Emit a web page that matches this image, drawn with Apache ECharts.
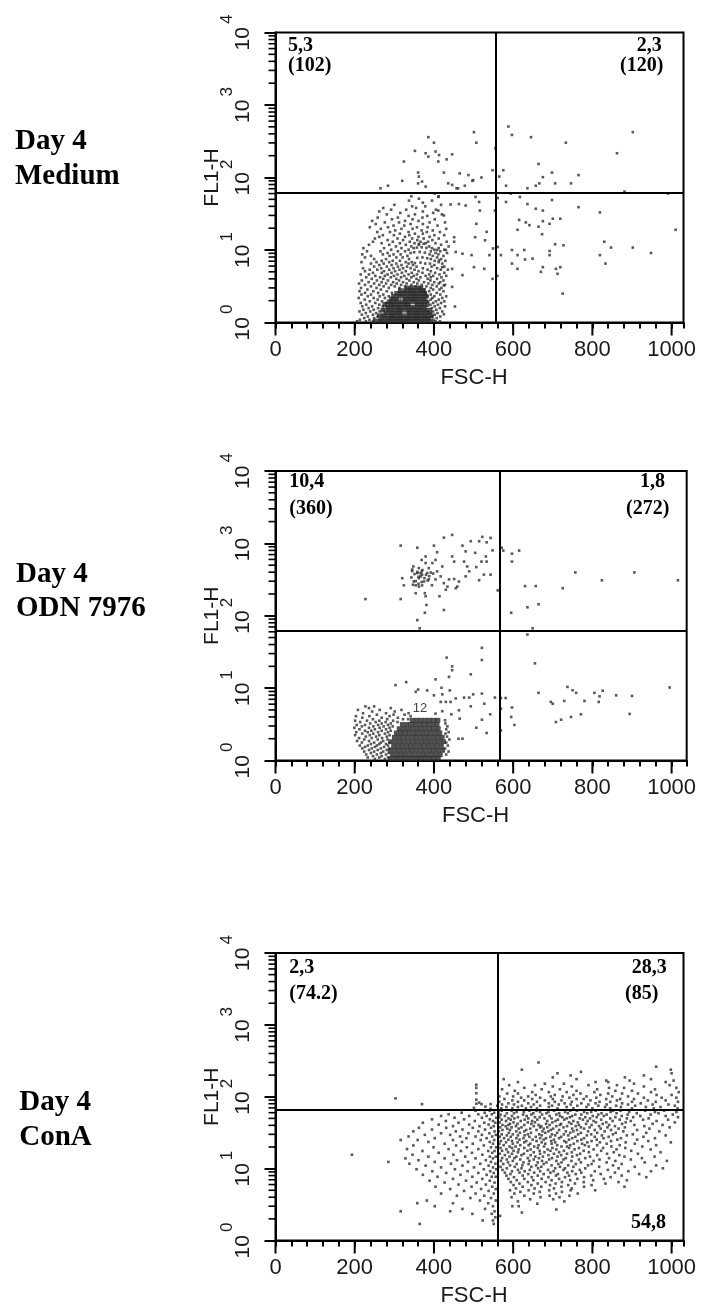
<!DOCTYPE html>
<html><head><meta charset="utf-8">
<script src="https://cdn.jsdelivr.net/npm/echarts@6/dist/echarts.min.js"></script>
<style>html,body{margin:0;padding:0;background:#fff}#c{width:701px;height:1308px}</style>
</head><body><div id="c"></div>
<script>
// ---------- axis tick values ----------
const xMajorTicks = [0, 200, 400, 600, 800, 1000];
const yMantissas = [2, 3, 4, 5, 6, 7, 8, 9];
const yDecades = [1, 10, 100, 1000];

// ---------- texts ----------
const rowTitles = [['Day 4', 'Medium'], ['Day 4', 'ODN 7976'], ['Day 4', 'ConA']];
const medQuad = ['5,3', '(102)', '2,3', '(120)'];
const odnQuad = ['10,4', '(360)', '1,8', '(272)'];
const conaQuad = ['2,3', '(74.2)', '28,3', '(85)', '54,8'];
const regionTag = '12';

// ---------- quadrant gates [FSC, FL1] ----------
const medGate = [556, 61.7];
const odnGate = [565, 61.5];
const conaGate = [560, 65.8];

// ---------- Day 4 Medium : events [FSC-H, FL1-H] ----------
const medPts = [
[501,422],[507,302],[386,360],[400,302],[352,233],[379,216],[404,228],[413,204],[386,194],[432,178],[446,209],[411,166],[324,166],[360,117],[362,103],[425,117],[465,114],[487,108],[497,90],[520,100],[548,126],[555,253],[320,90],[370,88],[379,75],[265,71],[284,77],[436,83],[446,79],[457,71],[478,77],[499,92],[360,83],
[588,505],[597,387],[645,360],[733,302],[902,422],[862,216],[575,126],[565,103],[582,77],[664,154],[698,117],[675,101],[666,83],[706,83],[746,83],[765,108],[657,77],[636,71],[881,64],[991,60],
[582,46],[594,60],[617,54],[636,43],[657,37],[675,35],[698,49],[765,39],[819,33],[615,26],[632,24],[641,22],[664,21],[675,25],[692,23],[700,27],[719,27],[611,19],[673,16.5],[1010,19],[830,13],[847,10.8],[819,8.5],[833,6.5],[902,10.8],[948,9.1],[692,9.7],[692,8.5],[706,12],[727,11.6],[708,5.5],[712,4.7],[719,5.8],[675,5.8],[670,5.0],[725,2.5],[597,10],[611,8.5],[628,10],[630,7.4],[649,7.6],[597,6.5],[611,5.5],[569,8.5],[561,11],[560,4.4],[561,52],
[505,54],[514,46],[516,35],[507,23],[533,17.8],[529,13.6],[504,15],[480,41],[463,43],[442,42.5],[461,71],[425,30],[411,35],[411,54],[402,60],[451,15],[451,13],[430,10],[455,9.4],[472,8.9],[495,8.5],[501,5.8],[527,5.5],[540,8.5],[548,4.0],[472,4.5],[446,5.5],[425,3.25],[446,3.1],[453,1.66],[425,1.3],[421,5.8],[413,7.2],[408,10],[554,35],[549,10.5],
[352,6.6],[366,6.7],[378,6.5],[358,7.8],[371,7.9],[383,7.7],[350,9.3],[364,9.4],[377,9.2],[357,10.8],[369,10.9],[381,10.7],[362,12.1],[374,12.2]
];
// rows: [FL1-H level, FSC-H values]
const medRows = [
[55,[343,412]],[51,[362]],[48,[337,395]],[45,[372]],[42,[300,418]],[40,[345,378]],[38,[272,355]],[36,[292,330,405]],
[34,[262,372]],[32.5,[315,398]],[31,[281,352,420]],[29.5,[336,383]],[28,[258,309,371]],[26.5,[294,346,402]],
[25.2,[244,327,361]],[24,[276,312,389,428]],[22.8,[253,341,372]],[21.7,[298,325,409]],[20.6,[238,284,357,384]],
[19.6,[266,318,346,431]],[18.6,[302,369,397]],[17.7,[257,289,336,382,415]],[16.8,[314,352,372]],
[16,[271,299,338,401,426]],[15.2,[262,327,361,389]],[14.4,[251,308,345,374,412]],[13.7,[283,322,358,396]],
[13,[246,296,339,366,385,432]],[12.4,[268,314,351,379,404]],[11.8,[236,287,329,362,418]],[11.2,[304,343,388,437]],
[10.6,[222,274,318,349,395,412]],[10.1,[292,336,401,426]],[9.6,[231,265,309,327,392,416]],[9.1,[283,341,404,433]],
[8.7,[219,271,298,316,389,411]],[8.3,[241,288,333,397,424]],[7.9,[226,305,321,408]],[7.5,[249,279,337,392,418]],
[7.1,[268,296,314,402,429]],[6.8,[217,255,287,329,344,412]],[6.5,[241,273,305,336,390,421]],[6.2,[262,293,318,347,401]],
[5.9,[249,281,309,332,356,394,426]],[5.6,[221,267,298,322,341,372,408]],[5.35,[238,257,287,313,351,384,417,435]],
[5.1,[226,274,302,329,361,392]],[4.85,[246,268,293,319,344,371,403,426]],[4.6,[215,236,283,308,336,357,388,414]],
[4.4,[252,276,299,325,349,379,398,431]],[4.2,[229,264,291,317,343,366,392,419]],[4.0,[243,272,305,331,356,384,408]],
[3.8,[218,256,284,312,338,362,391,424]],[3.6,[235,268,297,322,349,375,401,416]],[3.45,[211,249,279,306,331,358,386,412]],
[3.3,[226,262,292,317,343,369,396,428]],[3.15,[241,273,301,327,354,381,407]],[3.0,[216,255,286,313,339,365,392,419]],
[2.85,[232,266,376,398,414]],[2.7,[212,247,281,388,424]],[2.56,[226,259,294,379,407]],[2.43,[217,241,272,392,416]],
[2.3,[233,263,286,384,401,431]],[2.18,[210,248,276,396,421]],[2.07,[225,258,392,412]],[1.96,[238,269,386,405,426]],
[1.86,[215,252,279,398,418]],[1.76,[229,262,391,410]],[1.67,[219,244,271,402,428]],[1.58,[235,259,395,415]],
[1.5,[222,248,274,406]],[1.42,[212,239,263,398,421]],[1.35,[228,254,392,409]],[1.28,[218,246,269,402]],
[1.21,[233,258,396,416]],[1.15,[224,249,407]],[1.09,[213,237,262,399]],[1.04,[206,228,246,404,415]]
];
const medDense = [
[1.05,[252,264,276,288,299,311,322,333,345,356,368,379,391]],
[1.14,[270,283,295,306,317,329,340,352,363,375,386]],
[1.24,[262,276,289,300,312,323,335,346,358,369,381,393]],
[1.36,[279,291,303,314,337,349,360,372,384]],
[1.48,[271,285,297,309,320,332,343,355,366,378,389]],
[1.62,[283,294,306,317,329,341,352,364,376]],
[1.77,[276,289,300,312,324,335,358,370,382]],
[1.93,[287,298,310,321,333,345,356,368,379]],
[2.11,[293,305,328,340,351,363,375]],
[2.3,[298,311,322,334,346,357,369,380]],
[2.52,[306,318,330,341,353,364,376]],
[2.75,[315,327,339,350,362,373]],
[3.0,[332,344,356,367]]
];

// ---------- Day 4 ODN 7976 ----------
const odnPts = [
[316,930],[358,870],[379,660],[400,930],[408,755],[425,1200],[446,1310],[472,930],[480,775],[493,1070],[504,740],[514,1070],[522,1230],[543,1190],[533,1035],[548,800],[446,660],[451,560],[476,560],[484,480],[520,560],[533,560],[526,370],[543,370],[514,310],[480,350],[463,297],[451,322],[434,253],[430,229],[414,186],[425,120],[381,141],[379,186],[377,205],[354,205],[370,263],[354,263],[348,480],[345,435],[362,455],[358,390],[370,370],[387,455],[396,535],[408,410],[417,350],[404,318],[387,318],[375,298],[362,330],[349,298],[369,410],[383,390],[379,535],[404,590],[421,480],[425,282],[438,318],[320,330],[324,263],[362,253],[369,590],[367,350],[227,170],[316,170],[358,87],[364,67],[377,110],[459,253],[455,240],[489,410],[507,470],[531,660],[561,224],
[345,415],[358,402],[371,428],[392,395],[351,377],[366,386],[380,368],[398,382],[343,338],[361,346],[376,331],[388,352],[354,301],[369,292],[384,307],[347,268],[361,276],[395,264],
[571,870],[575,795],[597,720],[615,795],[597,560],[630,257],[657,257],[725,240],[757,397],[824,309],[906,397],[1016,309],[664,144],[636,131],[595,110],[649,67],
[636,55],[655,22],[664,8.6],[569,7.3],[581,7.3],[569,5.2],[597,5.4],[595,4.0],[603,3.1],[569,2.6],[695,6.45],[700,6.1],[729,6.65],[737,10.4],[750,9.35],[759,8.6],[780,6.65],[805,8.6],[818,7.7],[826,9.2],[816,6.45],[860,7.95],[900,7.8],[995,10.2],[708,3.4],[721,3.66],[746,4.0],[771,4.35],[894,4.4],
[521,36],[521,24.5],[432,26.4],[446,20],[446,17.7],[438,14.3],[493,15.5],[404,13.2],[330,12.1],[303,11],[354,8.9],[360,9.55],[383,9.3],[400,7.95],[419,10.1],[421,8.2],[440,9.3],[417,6.45],[430,6.45],[442,6.45],[455,7.2],[476,7.4],[489,7.4],[499,8.2],[521,8.4],[493,5.6],[527,6.1],[554,7.4],[542,4.35],[521,3.66],[507,2.84],[533,2.4],[463,4.94],[465,3.79],[444,4.35],[462,2.0],[472,2.0],[421,4.8],[404,4.44],[428,3.6]
];
const odnRows = [
[5.6,[227,249]],[5.3,[236,291]],[5.0,[208,263,318]],[4.75,[244,301]],[4.5,[221,279,336]],[4.3,[256,298,326]],
[4.1,[203,237,288,341]],[3.9,[219,268,309]],[3.72,[246,282,322,335]],[3.55,[201,231,262,297]],[3.4,[214,253,278,308]],
[3.25,[239,268,291,429]],[3.1,[205,226,259,284]],[2.96,[218,247,273,296,434]],[2.83,[199,236,263,288]],
[2.7,[212,251,279,431]],[2.58,[226,242,268,291]],[2.46,[204,233,259,284,437]],[2.35,[219,247,276,429]],
[2.24,[201,238,262,288]],[2.14,[228,254,281,433]],[2.04,[211,243,269]],[1.95,[224,258,283,439]],[1.86,[206,236,272]],
[1.77,[218,249,266,287,431]],[1.69,[241,262,279]],[1.61,[213,233,256,284,435]],[1.54,[226,251,274]],
[1.47,[219,243,266,288,428]],[1.4,[236,258,281]],[1.33,[224,249,272,437]],[1.27,[241,266,286]],
[1.21,[229,256,279,431]],[1.15,[246,268]],[1.1,[233,262,284]],[1.05,[251,276]]
];
const odnDense = [
[1.06,[290,301,312,323,334,345,356,367,378,389,400,411]],
[1.2,[295,306,317,328,339,350,361,372,383,394,405,416]],
[1.38,[290,301,312,323,334,345,356,367,378,389,400,411,422]],
[1.58,[298,309,320,331,342,353,364,375,386,397,408,419]],
[1.82,[292,303,314,325,336,347,358,369,380,391,402,413,424]],
[2.09,[300,311,322,333,344,355,366,377,388,399,410,421]],
[2.4,[305,316,327,338,349,360,371,382,393,404,415]],
[2.75,[312,323,334,345,356,367,378,389,400,411]],
[3.15,[320,331,342,353,364,375,386,397,408]],
[3.6,[345,356,367,378,389,400,410]]
];

// ---------- Day 4 ConA ----------
const conaPts = [
[303,95],[370,79],[507,147],[507,133],[507,112],[507,91],[507,80],[514,83],[520,79],[543,79],[501,70],[543,68],[530,73]
];
const conaRows = [
[300,[664]],[262,[961]],[238,[622,998]],[222,[771]],[212,[712,1000]],[198,[745,930]],[186,[700,882]],
[176,[576,760,948]],[168,[835,894,1005]],[160,[612,808,840,985]],[152,[680,728,905]],[145,[590,655,790,862,995]],
[139,[700,748,930]],[133,[628,842,880,1012]],[127,[572,672,718,812,958]],[121,[604,760,858,900]],
[116,[648,690,735,805,948,1018]],[111,[585,612,770,840,875,915]],[106,[657,705,752,820,962,1000]],
[101,[565,600,638,695,725,785,850,890]],[97,[620,668,742,810,930,975,1012]],[93,[578,648,700,760,778,835,870,905]],
[89,[598,628,680,722,795,862,940,985]],[85,[565,612,660,705,748,818,845,900,960,1016]],[81,[588,638,690,730,772,808,875,922]],
[78,[572,602,652,715,745,790,836,890,952,992]],[75,[560,622,668,698,762,815,860,908,1008]],
[72,[583,612,645,690,735,785,832,872,935,972]],[69,[570,598,632,660,712,752,800,845,900,955,1015]],
[64,[571,596,641,659,703,744,761,808,852,871,933,981]],[61.5,[563,609,627,668,689,731,779,797,846,893,958,1012]],
[59,[584,602,651,684,716,738,787,823,861,912,967]],[56.5,[568,625,646,673,709,757,772,815,836,889,947,1003]],
[54,[579,597,634,692,718,749,801,829,874,921,985]],[52,[565,612,655,667,724,743,782,811,858,903,1016]],
[50,[588,603,638,679,697,735,768,794,845,887,942]],[48,[571,594,629,661,713,729,776,822,869,928,991]],
[46,[582,619,648,686,707,752,788,803,851,897,962]],[44,[566,601,637,655,699,741,763,809,835,884,1008]],
[42,[592,611,646,683,721,747,784,826,875,952]],[40.5,[573,588,628,664,692,718,766,798,842,906,977]],
[39,[581,607,652,671,709,736,758,817,857,931]],[37.5,[567,596,621,668,686,727,771,793,838,882,995]],
[36,[585,614,643,677,701,749,779,821,866,944]],[34.5,[573,592,633,659,695,716,761,806,847,913]],
[33,[564,608,628,674,689,733,752,789,831,878,969]],[31.5,[589,617,645,681,711,744,771,812,859,936]],
[30,[571,599,637,666,698,728,764,797,852,902]],[29,[584,612,629,672,706,739,786,824,887,985]],
[27.7,[566,594,641,657,694,721,757,806,841,929]],[26.5,[577,608,626,668,683,716,749,779,828,872,958]],
[25.3,[588,616,649,677,703,741,772,811,863,913]],[24.2,[569,597,633,659,696,729,762,798,847,941]],
[23.2,[582,611,628,672,706,734,787,819,884,998]],[22.2,[565,599,643,681,697,753,774,836,907]],
[21.2,[576,618,639,664,711,744,781,812,869,961]],[20.3,[591,606,653,678,722,736,791,848,926]],
[19.4,[568,597,628,662,699,741,766,827,883]],[18.5,[583,614,644,687,709,755,803,861,947]],
[17.7,[572,601,636,667,694,728,778,822,898]],[16.9,[587,612,652,679,716,748,791,854,972]],
[16.1,[566,597,627,668,703,736,769,837,915]],[15.4,[579,621,644,689,721,761,812,868]],
[14.7,[591,608,656,675,712,749,794,881,957]],[14,[572,603,637,665,698,733,782,842,925]],
[13.4,[584,618,652,691,727,766,818,897]],[12.8,[569,599,641,673,709,747,803,858,988]],
[12.2,[587,626,662,684,722,771,836,932]],[11.6,[575,609,639,677,714,758,798,874]],
[11.1,[592,623,658,697,739,789,852,961]],[10.6,[568,604,646,671,718,752,817,907]],
[10.1,[584,621,663,706,731,782,866,978]],[9.6,[573,612,642,688,727,768,839]],
[9.2,[597,629,668,702,749,806,891,948]],[8.8,[579,616,653,694,737,772,857]],
[8.4,[593,638,677,713,758,821,918]],[8,[583,624,662,708,741,797,874]],[7.6,[602,647,689,731,779,846,936]],
[7.2,[588,628,672,716,762,829]],[6.9,[609,651,697,744,802,887]],[6.5,[594,637,682,723,778,866]],
[6.2,[616,662,707,756,833]],[5.9,[601,646,693,739,798]],[5.6,[624,671,722,779,881]],[5.3,[607,654,703,748]],
[5.0,[592,639,691,745,807]],[4.75,[618,667,723]],[4.5,[603,652,708,763]],[4.2,[628,692,742]],[4.0,[596,669,717]],
[3.75,[643,701]],[3.5,[612,729]],[3.25,[661]],[3.0,[598,614]],[2.7,[709]],[2.45,[622]],[2.2,[567]],
// left of the FSC gate
[64,[505,541]],[60,[470,528,552]],[57,[437,512,546]],[54,[418,489,533]],[51,[452,521,557]],[48.5,[395,476,541]],
[46,[430,503,549]],[43.5,[372,462,527,555]],[41,[412,489,538]],[39,[448,515,551]],[37,[362,431,498,544]],
[35,[395,472,529]],[33,[348,455,512,553]],[31,[418,487,540]],[29.5,[377,441,521,556]],[28,[336,466,505,547]],
[26.5,[402,482,533]],[25,[316,359,448,518,552]],[23.5,[386,471,541]],[22.2,[427,498,549]],[21,[348,456,526]],
[19.8,[399,483,544,557]],[18.7,[332,437,512]],[17.6,[371,468,537,553]],[16.6,[412,496,547]],[15.6,[193,346,449,522]],
[14.7,[386,479,541,556]],[13.9,[328,427,505,549]],[13.1,[361,458,531]],[12.4,[285,402,486,544]],[11.7,[338,443,517,555]],
[11,[379,472,538]],[10.4,[418,501,549]],[9.8,[356,453,526,557]],[9.2,[396,485,542]],[8.7,[431,512,551]],
[8.2,[372,467,533]],[7.7,[409,497,546,556]],[7.2,[448,522]],[6.8,[389,481,541]],[6.4,[427,508,553]],
[6.0,[462,531]],[5.6,[404,495,547]],[5.2,[441,519,556]],[4.9,[476,538]],[4.5,[418,505,551]],[4.2,[458,527]],
[3.9,[492,544]],[3.6,[382,516,556]],[3.3,[358,448,537]],[3.0,[402,549]],[2.75,[472,529]],[2.55,[316,441,553]],
[2.35,[497,546]],[2.1,[555]],[1.9,[523,549]],[1.7,[364,551]]
];

// ---------- build chart ----------
const toPairs = rows => rows.flatMap(([y, xs]) => xs.map(x => [x, y]));
const yMinorValues = yDecades.flatMap(d => yMantissas.map(m => m * d));

const panels = [
  {pts: medPts, rows: medRows, dense: medDense, gate: medGate, top: 32.5, height: 290, max: 1030},
  {pts: odnPts, rows: odnRows, dense: odnDense, gate: odnGate, top: 471, height: 289.5, max: 1038},
  {pts: conaPts, rows: conaRows, dense: [], gate: conaGate, top: 953, height: 287.5, max: 1030}
];
const LEFT = 275.5, PX_PER_UNIT = 408 / 1030;
const SANS = 'Liberation Sans', SERIF = 'Liberation Serif';
const INK = '#1a1a1a';

const grid = [], xAxis = [], yAxis = [], series = [];
panels.forEach((p, i) => {
  grid.push({left: LEFT, top: p.top, width: p.max * PX_PER_UNIT, height: p.height,
    show: true, borderColor: '#000', borderWidth: 2, containLabel: false});
  xAxis.push({type: 'value', gridIndex: i, min: 0, max: p.max, interval: 40,
    name: 'FSC-H', nameLocation: 'middle', nameGap: 44.5, nameMoveOverlap: false,
    nameTextStyle: {fontFamily: SANS, fontSize: 22, color: INK, padding: [0, 11, 0, 0]},
    axisLine: {show: true, onZero: false, lineStyle: {color: '#000', width: 2}},
    axisTick: {show: true, length: 6, lineStyle: {color: '#000', width: 2}},
    axisLabel: {margin: 16, fontFamily: SANS, fontSize: 22, color: INK,
      formatter: v => (v % 200 === 0 && v <= 1000) ? String(v) : ''},
    splitLine: {show: false}});
  yAxis.push({type: 'log', gridIndex: i, min: 1, max: 10000, logBase: 10,
    name: 'FL1-H', nameLocation: 'middle', nameGap: 53, nameMoveOverlap: false,
    nameTextStyle: {fontFamily: SANS, fontSize: 21, color: INK},
    axisLine: {show: true, lineStyle: {color: '#000', width: 2}},
    axisTick: {show: true, length: 11, lineStyle: {color: '#000', width: 2}},
    axisLabel: {rotate: 90, margin: 22,
      formatter: v => '{b|10}{e|' + Math.round(Math.log10(v)) + '}',
      rich: {
        b: {fontFamily: SANS, fontSize: 21, lineHeight: 21, color: INK, verticalAlign: 'bottom'},
        e: {fontFamily: SANS, fontSize: 17, lineHeight: 17, color: INK, verticalAlign: 'bottom', padding: [0, 0, 18, 3]}
      }},
    splitLine: {show: false}});

  series.push({type: 'scatter', xAxisIndex: i, yAxisIndex: i, symbol: 'rect', symbolSize: 2.6,
    itemStyle: {color: '#2e2e2e'}, data: p.pts.concat(toPairs(p.rows)), silent: true,
    markLine: {silent: true, symbol: ['none', 'none'], label: {show: false},
      lineStyle: {color: '#000', width: 2, type: 'solid'},
      data: [{xAxis: p.gate[0]}, {yAxis: p.gate[1]}]}});
  if (p.dense.length) {
    series.push({type: 'scatter', xAxisIndex: i, yAxisIndex: i, symbol: 'rect', symbolSize: 4.8,
      itemStyle: {color: '#262626'}, data: toPairs(p.dense), silent: true});
  }
  series.push({type: 'custom', xAxisIndex: i, yAxisIndex: i, silent: true, clip: false,
    data: yMinorValues.map(v => [0, v]),
    renderItem: (params, api) => {
      const c = api.coord([api.value(0), api.value(1)]);
      return {type: 'line', shape: {x1: c[0] - 7, y1: c[1], x2: c[0], y2: c[1]},
        style: {stroke: '#000', lineWidth: 1.6}};
    }});
  series.push({type: 'custom', xAxisIndex: i, yAxisIndex: i, silent: true, clip: false,
    data: xMajorTicks.map(v => [v, 1]),
    renderItem: (params, api) => {
      const c = api.coord([api.value(0), api.value(1)]);
      return {type: 'line', shape: {x1: c[0], y1: c[1], x2: c[0], y2: c[1] + 13},
        style: {stroke: '#000', lineWidth: 2}};
    }});
});

// ---------- text annotations ----------
const titleFont = 'bold 29px "' + SERIF + '"';
const quadFont = 'bold 20px "' + SERIF + '"';
const txt = (s, x, y, font, align) => ({type: 'text', x: x, y: y, silent: true,
  style: {text: s, font: font, fill: '#000', align: align || 'left', verticalAlign: 'middle'}});
const titlePos = [[15, 142, 176.2], [16, 575, 609], [19.3, 1102.2, 1137.5]];
const graphic = [];
rowTitles.forEach((t, i) => {
  graphic.push(txt(t[0], titlePos[i][0], titlePos[i][1], titleFont));
  graphic.push(txt(t[1], titlePos[i][0], titlePos[i][2], titleFont));
});
graphic.push(txt(medQuad[0], 288, 45.8, quadFont), txt(medQuad[1], 288, 65.5, quadFont),
  txt(medQuad[2], 661.7, 45.8, quadFont, 'right'), txt(medQuad[3], 663.3, 65.5, quadFont, 'right'));
graphic.push(txt(odnQuad[0], 289.3, 481.5, quadFont), txt(odnQuad[1], 289.3, 508.4, quadFont),
  txt(odnQuad[2], 665, 481.5, quadFont, 'right'), txt(odnQuad[3], 669.3, 508.4, quadFont, 'right'));
graphic.push(txt(conaQuad[0], 289.3, 967.5, quadFont), txt(conaQuad[1], 289.3, 994.3, quadFont),
  txt(conaQuad[2], 666.7, 967.5, quadFont, 'right'), txt(conaQuad[3], 658.3, 994.3, quadFont, 'right'),
  txt(conaQuad[4], 666, 1223, quadFont, 'right'));
graphic.push({type: 'text', x: 420, y: 708, silent: true,
  style: {text: regionTag, font: '13px "' + SANS + '"', fill: '#444', align: 'center', verticalAlign: 'middle'}});

const chart = echarts.init(document.getElementById('c'), null, {renderer: 'canvas'});
chart.setOption({animation: false, backgroundColor: '#fff', grid, xAxis, yAxis, series, graphic});
</script></body></html>
